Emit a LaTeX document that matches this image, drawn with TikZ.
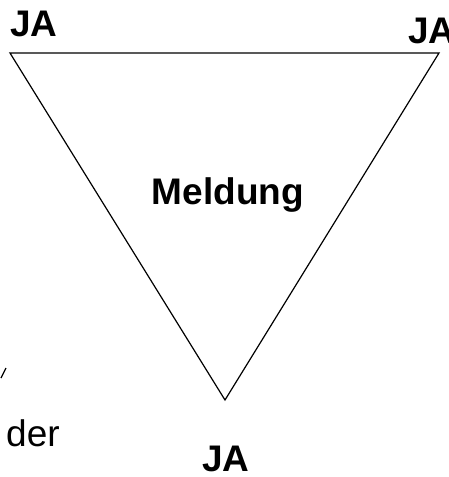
\documentclass[tikz,border=0pt]{standalone}
\usepackage{fontspec}
\setmainfont{Liberation Sans}
\begin{document}
\begin{tikzpicture}[x=1pt,y=-1pt,
  lbl/.style={inner sep=0pt,font=\fontsize{37}{42}\selectfont\bfseries},
  plain/.style={inner sep=0pt,font=\fontsize{37}{42}\selectfont}]
\useasboundingbox (0,0) rectangle (449,477);
\coordinate (tl) at (10,53);
\coordinate (tr) at (439,53);
\coordinate (b) at (225,400);
\draw[line width=1.2pt] (tl) -- (tr) -- (b) -- cycle;
\node[lbl,anchor=base west] (ja1) at (10,36) {JA};
\node[lbl,anchor=base west] (ja2) at (408,43) {JA};
\node[lbl,anchor=base] (ja3) at (226,471) {JA};
\node[lbl,anchor=base] (mel) at (228,204) {Meldung};
\node[plain,anchor=base west] (der) at (6,446) {der};
\coordinate (m1) at (1,378);
\coordinate (m2) at (6,368);
\draw[line width=1.3pt] (m1) -- (m2);
\end{tikzpicture}
\end{document}
